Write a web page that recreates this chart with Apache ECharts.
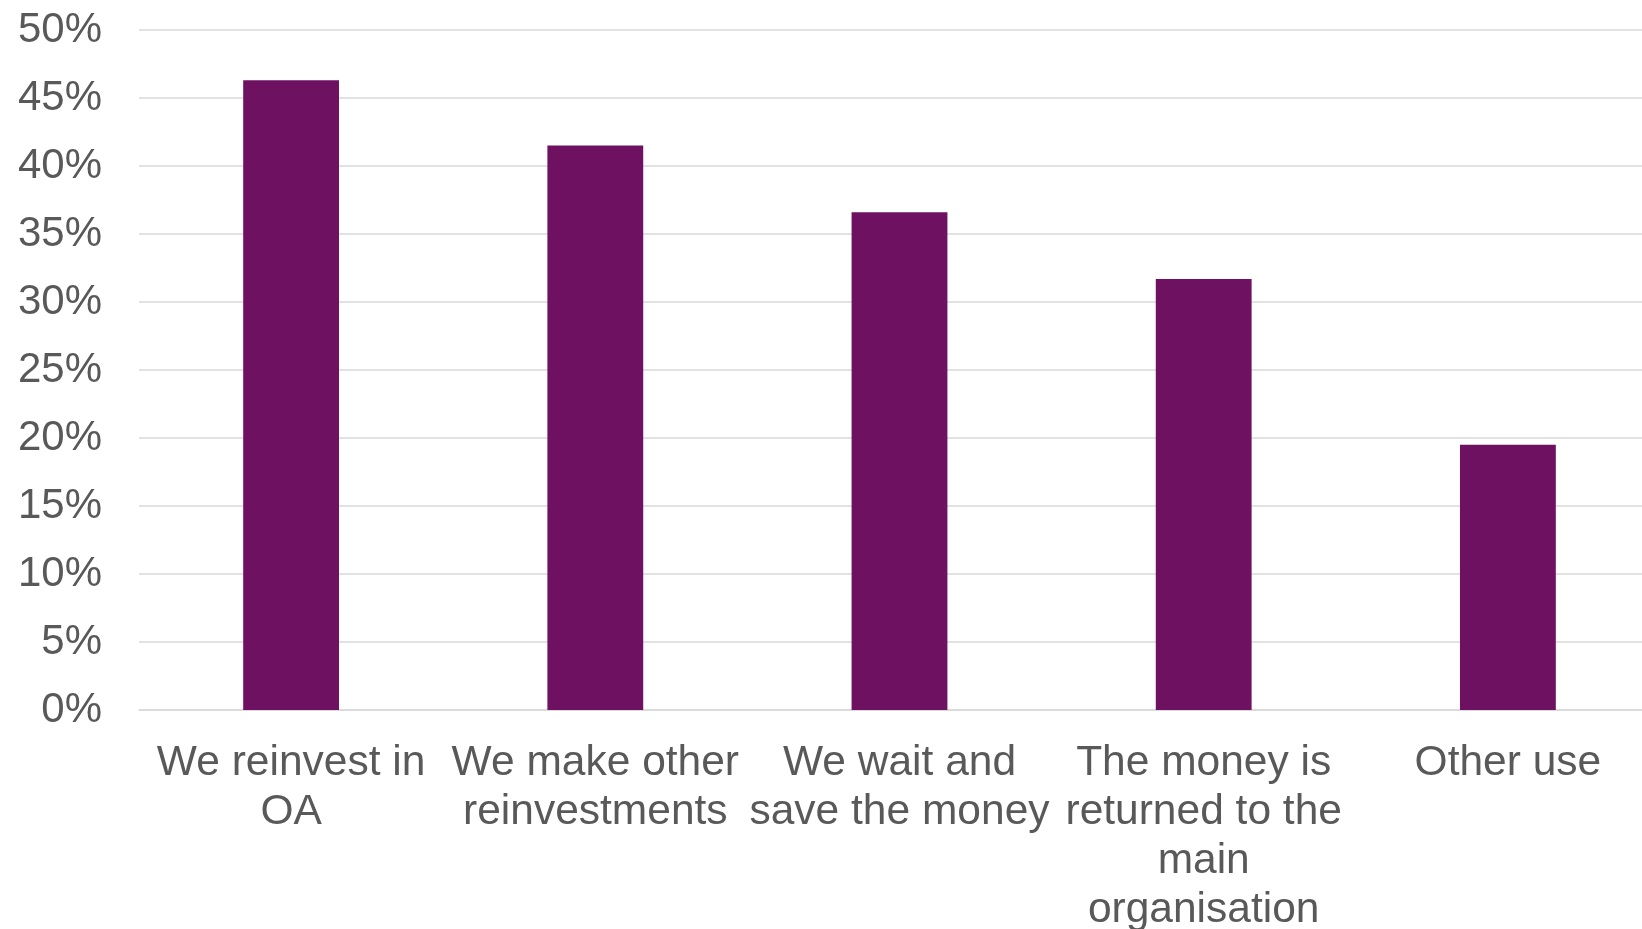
<!DOCTYPE html>
<html>
<head>
<meta charset="utf-8">
<script src="https://cdn.jsdelivr.net/npm/echarts@6/dist/echarts.min.js"></script>
<style>
    html, body { margin: 0; padding: 0; background: #fff; }
    #chart { width: 1642px; height: 929px; }
</style>
</head>
<body>
<div id="chart"></div>
<script>
// 分类（x轴）
const categories = [
    "We reinvest in\nOA",
    "We make other\nreinvestments",
    "We wait and\nsave the money",
    "The money is\nreturned to the\nmain\norganisation",
    "Other use"
];
// 百分比数值
const shares = [46.3, 41.5, 36.6, 31.7, 19.5];
// y轴刻度
const yMin = 0;
const yMax = 50;
const yStep = 5;

const chart = echarts.init(document.getElementById("chart"));
const option = {
    animation: false,
    textStyle: {
        fontFamily: "Liberation Sans, Arial, sans-serif"
    },
    grid: {
        left: 139,
        // 绘图区比画布略宽（原图右侧被裁掉）
        right: -18,
        top: 30,
        bottom: 219,
        outerBoundsMode: "none",
        containLabel: false
    },
    xAxis: {
        type: "category",
        data: categories,
        axisLine: { lineStyle: { color: "#d9d9d9", width: 1.5 } },
        axisTick: { show: false },
        axisLabel: {
            color: "#595959",
            fontSize: 42.5,
            lineHeight: 49,
            margin: 29,
            interval: 0
        }
    },
    yAxis: {
        type: "value",
        min: yMin,
        max: yMax,
        interval: yStep,
        axisLine: { show: false },
        axisTick: { show: false },
        splitLine: { lineStyle: { color: "#d9d9d9", width: 1.5 } },
        axisLabel: {
            color: "#595959",
            fontSize: 42,
            margin: 37,
            formatter: "{value}%"
        }
    },
    series: [
        {
            type: "bar",
            data: shares,
            barWidth: "31.5%",
            itemStyle: { color: "#6e1160" }
        }
    ]
};
chart.setOption(option);
</script>
</body>
</html>
